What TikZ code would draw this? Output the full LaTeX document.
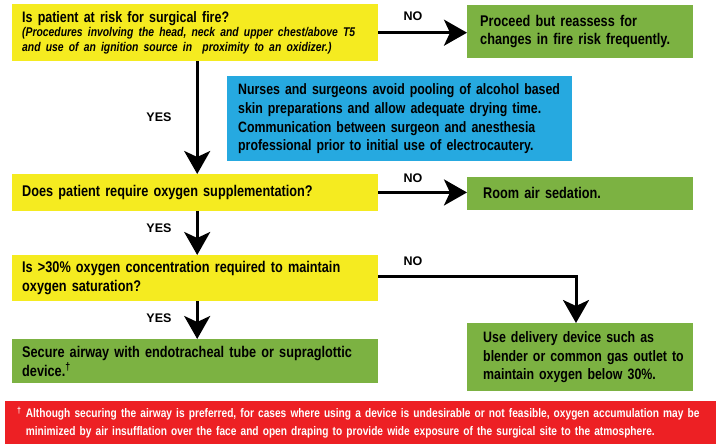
\documentclass[tikz,border=0pt]{standalone}
\usepackage{fontspec}
\setmainfont{Liberation Sans}
\newfontfamily\cond[FakeStretch=0.82]{Liberation Sans}
\usetikzlibrary{arrows.meta}
\definecolor{fy}{RGB}{245,235,32}
\definecolor{fg}{RGB}{124,178,66}
\definecolor{fb}{RGB}{38,169,224}
\definecolor{fr}{RGB}{237,32,36}
\begin{document}
\begin{tikzpicture}[x=1pt,y=-1pt,
  box/.style={rectangle, anchor=north west, inner ysep=0pt, inner xsep=0pt, align=left,
    font=\cond\bfseries\fontsize{15.5}{18.6}\selectfont},
  pad/.style={execute at begin node={\leftskip=#1\relax}},
  lbl/.style={anchor=base, inner sep=0pt, font=\bfseries\fontsize{12.5}{14}\selectfont},
  arr/.style={line width=3pt, -{Stealth[length=23pt,width=26pt,inset=6pt]}},
]
\useasboundingbox (0,0) rectangle (721,444);

\node[box, fill=fy, minimum width=366pt, minimum height=57pt, text width=366pt, pad=10pt] (q1) at (12,4)
 {{\fontsize{15.2}{14.2}\selectfont Is patient at risk for surgical fire?\par}%
  {\itshape\fontsize{12.65}{14.2}\selectfont (Procedures involving the head, neck and upper chest/above T5\\
   and use of an ignition source in\ \ proximity to an oxidizer.)\par}};

\node[box, fill=fg, minimum width=226pt, minimum height=53pt, text width=226pt, pad=13pt] (g1) at (467,5)
 {Proceed but reassess for\\ changes in fire risk frequently.};

\node[box, fill=fb, minimum width=345pt, minimum height=85pt, text width=345pt, pad=11pt,
  font=\cond\bfseries\fontsize{15.05}{18.9}\selectfont] (nb) at (227,76)
 {Nurses and surgeons avoid pooling of alcohol based\\
  skin preparations and allow adequate drying time.\\
  Communication between surgeon and anesthesia\\
  professional prior to initial use of electrocautery.};

\node[box, fill=fy, minimum width=366pt, minimum height=36.5pt, text width=366pt, pad=10pt] (q2) at (12,174)
 {Does patient require oxygen supplementation?};

\node[box, fill=fg, minimum width=226pt, minimum height=32.5pt, text width=226pt, pad=16pt] (g2) at (467,177)
 {Room air sedation.};

\node[box, fill=fy, minimum width=366pt, minimum height=46pt, text width=366pt, pad=10pt] (q3) at (12,255)
 {Is >30\% oxygen concentration required to maintain\\ oxygen saturation?};

\node[box, fill=fg, minimum width=226pt, minimum height=68pt, text width=226pt, pad=16pt,
  font=\cond\bfseries\fontsize{15.1}{18.3}\selectfont] (g3) at (467,323)
 {Use delivery device such as\\ blender or common gas outlet to\\ maintain oxygen below 30\%.};

\node[box, fill=fg, minimum width=366pt, minimum height=44pt, text width=366pt, pad=10pt] (g4) at (12,339)
 {Secure airway with endotracheal tube or supraglottic\\ device.\textsuperscript{†}};

\node[box, fill=fr, text=white, minimum width=711pt, minimum height=43pt, text width=711pt, pad=12pt,
  font=\cond\bfseries\fontsize{12.4}{17.5}\selectfont] (fn) at (5,401)
 {\textsuperscript{†} Although securing the airway is preferred, for cases where using a device is undesirable or not feasible, oxygen accumulation may be\\
  \phantom{\textsuperscript{†}} minimized by air insufflation over the face and open draping to provide wide exposure of the surgical site to the atmosphere.};

\node[lbl] (no1) at (413,21) {NO};
\node[lbl] (no2) at (413,182) {NO};
\node[lbl] (no3) at (413,265) {NO};
\node[lbl] (yes1) at (159,121.5) {YES};
\node[lbl] (yes2) at (159,232) {YES};
\node[lbl] (yes3) at (159,322) {YES};

\coordinate (c3) at (576,276);
\draw[arr] (q1.east) -- (q1.east -| g1.west);
\draw[arr] (q2.east) -- (q2.east -| g2.west);
\draw[arr] ([xshift=2pt]q1.south) -- ([xshift=2pt]q2.north);
\draw[arr] ([xshift=2pt]q2.south) -- ([xshift=2pt]q3.north);
\draw[arr] ([xshift=2pt]q3.south) -- ([xshift=2pt]g4.north);
\draw[arr] (q3.east |- c3) -- (c3) -- (c3 |- g3.north);
\end{tikzpicture}
\end{document}
